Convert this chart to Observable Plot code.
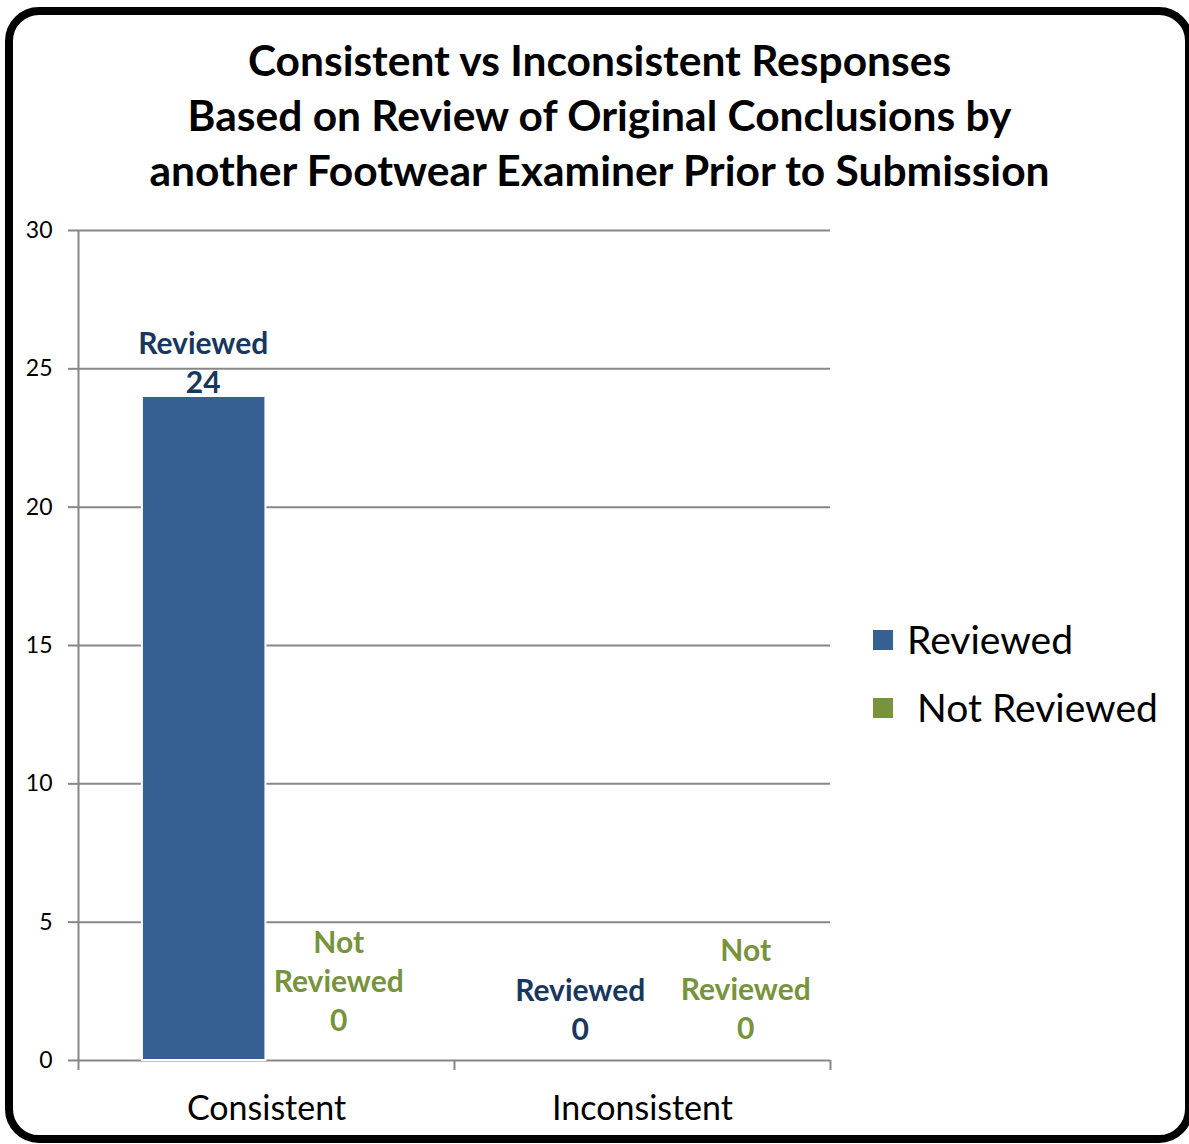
<!DOCTYPE html>
<html>
<head>
<meta charset="utf-8">
<script src="https://cdn.jsdelivr.net/npm/d3@7"></script>
<script src="https://cdn.jsdelivr.net/npm/@observablehq/plot@0.6"></script>
<style>
  html, body { margin: 0; padding: 0; background: #fff; overflow: hidden; }
  body { width: 1189px; height: 1144px; position: relative; font-family: Lato, "Open Sans", sans-serif; }
  #frame { position: absolute; left: 5px; top: 7px; width: 1172px; height: 1120px; border: 8px solid #000; border-radius: 34px; pointer-events: none; }
  #title { position: absolute; left: 0; top: 32px; width: 1199px; text-align: center; font-weight: 700; font-size: 42.5px; line-height: 55px; color: #000; }
  #chart { position: absolute; left: 0; top: 0; }
  #legend { position: absolute; left: 873px; top: 611px; font-size: 39px; color: #000; }
  .item { position: relative; height: 68px; }
  .sw { position: absolute; left: 0; top: 19px; width: 20px; height: 20px; }
  .lab { position: absolute; top: 0; line-height: 56px; white-space: pre; }
</style>
</head>
<body>
<div id="chart"></div>
<div id="title"></div>
<div id="legend"></div>
<div id="frame"></div>
<script>
const titleLines = [
  "Consistent vs Inconsistent Responses",
  "Based on Review of Original Conclusions by",
  "another Footwear Examiner Prior to Submission"
];
const categories = ["Consistent", "Inconsistent"];
const series = ["Reviewed", "Not Reviewed"];
const reviewedValues = [24, 0];
const notReviewedValues = [0, 0];
const yTicks = [0, 5, 10, 15, 20, 25, 30];
const barColors = ["#376092", "#77933C"];
const labelColors = ["#17375E", "#77933C"];
const legendLabels = ["Reviewed", " Not Reviewed"];

// build table
const valuesBySeries = [reviewedValues, notReviewedValues];
const rows = [];
categories.forEach((c, ci) => {
  series.forEach((s, si) => {
    rows.push({category: c, ci, series: s, si, value: valuesBySeries[si][ci]});
  });
});

const gapFrac = 0.17;      // outer gap within a category (style)
const barFrac = 0.3285;    // bar width as fraction of category (style)
const bx1 = d => d.ci + gapFrac + d.si * barFrac;
const bx2 = d => d.ci + gapFrac + (d.si + 1) * barFrac;
const bxc = d => d.ci + gapFrac + (d.si + 0.5) * barFrac;

const labelText = d => (d.si === 1 ? "Not\nReviewed\n" : "Reviewed\n") + d.value;
// per-label nudges (px), style only
const nudge = {"Consistent|Reviewed": [-1, -4], "Consistent|Not Reviewed": [11, -30],
               "Inconsistent|Reviewed": [0, -21], "Inconsistent|Not Reviewed": [42, -22]};

const labelMarks = rows.map(r => {
  const [dx, dy] = nudge[r.category + "|" + r.series];
  return Plot.text([r], {
    x: bxc, y: "value", text: labelText, dx, dy,
    lineAnchor: "bottom", lineHeight: 1.3,
    fill: labelColors[r.si], fontWeight: 700, fontSize: 30,
    fontFamily: "Lato"
  });
});

const plot = Plot.plot({
  width: 1189,
  height: 1144,
  marginLeft: 78,
  marginRight: 359,
  marginTop: 230,
  marginBottom: 84,
  style: {fontFamily: "Lato", background: "transparent"},
  x: {type: "linear", domain: [0, categories.length], axis: null},
  y: {domain: [0, 30], axis: null},
  color: {domain: series, range: barColors},
  marks: [
    Plot.ruleY(yTicks, {stroke: "#878787", strokeWidth: 2}),
    Plot.ruleX([0], {y1: 0, y2: 30, stroke: "#878787", strokeWidth: 2}),
    Plot.axisY({ticks: yTicks, tickSize: 10, tickPadding: 16, stroke: "#878787", strokeWidth: 2, strokeOpacity: 1,
      fontSize: 23, fill: "#000", label: null}),
    Plot.axisX({ticks: d3.range(categories.length + 1), tickSize: 10, tickFormat: () => "",
      stroke: "#878787", strokeWidth: 2, strokeOpacity: 1, label: null}),
    Plot.axisX({ticks: categories.map((c, i) => i + 0.5), tickSize: 0, tickPadding: 35,
      tickFormat: v => categories[Math.floor(v)], fontSize: 34, fill: "#000", label: null}),
    Plot.rect(rows.filter(d => d.value > 0), {x1: bx1, x2: bx2, y1: 0, y2: "value",
      fill: "series", stroke: "white", strokeWidth: 2}),
    ...labelMarks
  ]
});
document.getElementById("chart").appendChild(plot);

document.getElementById("title").innerHTML = titleLines.map(t => `<div>${t}</div>`).join("");

const color = plot.scale("color");
document.getElementById("legend").innerHTML = series.map((s, i) =>
  `<div class="item"><div class="sw" style="background:${color.apply(s)}"></div><div class="lab" style="left:34px">${legendLabels[i]}</div></div>`
).join("");
</script>
</body>
</html>
